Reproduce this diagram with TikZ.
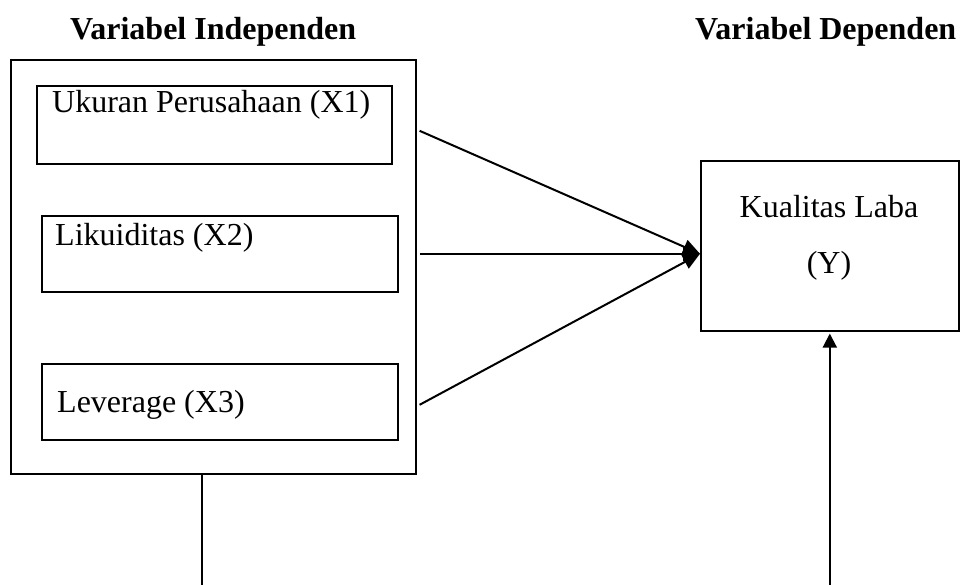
\documentclass[tikz,border=0pt]{standalone}
\usepackage{fontspec}
\setmainfont{Liberation Serif}
\usetikzlibrary{arrows.meta,calc}

\begin{document}
\begin{tikzpicture}[
    x=1pt, y=-1pt,
    box/.style={draw=black, line width=1.6pt, rectangle, inner sep=0pt,
      anchor=north west},
    txt/.style={anchor=base west, inner sep=0pt,
      font=\fontsize{32}{38}\selectfont},
    head/.style={anchor=base west, inner sep=0pt,
      font=\fontsize{32}{38}\selectfont\bfseries},
    link/.style={line width=2pt},
  line join=miter]

  \useasboundingbox (0,0) rectangle (960,585);

  % headings
  \node [head] (hind) at (70,40) {Variabel Independen};
  \node [head] (hdep) at (695,40) {Variabel Dependen};

  % independent variables
  \node [box, minimum width=405, minimum height=414] (indep) at (10,59) {};
  \node [box, minimum width=355, minimum height=78] (x1) at (36,85) {};
  \node [box, minimum width=356, minimum height=76] (x2) at (41,215) {};
  \node [box, minimum width=356, minimum height=76] (x3) at (41,363) {};
  \node [txt] (tx1) at (52,113) {Ukuran Perusahaan (X1)};
  \node [txt] (tx2) at (55,245) {Likuiditas (X2)};
  \node [txt] (tx3) at (57,412) {Leverage (X3)};

  % dependent variable
  \node [box, minimum width=258, minimum height=170] (dep) at (700,160) {};
  \node [txt, anchor=base] (ty1) at (829,218) {Kualitas Laba};
  \node [txt, anchor=base] (ty2) at (829,273) {(Y)};

  % arrows to Y
  \coordinate (tip) at ([yshift=-8pt]dep.west);
  \foreach \v/\dy in {x1/6, x2/0, x3/3}
    \draw [link, -{Triangle[length=17pt,width=15pt]}]
      ([xshift=3pt, yshift=-\dy pt]indep.east |- \v.center) -- (tip);

  % lines at the bottom
  \coordinate (low) at ([xshift=-11.5pt]indep.south |- 0,585);
  \coordinate (up) at (dep.south |- 0,585);
  \draw [line width=1.6pt] ([xshift=-11.5pt]indep.south) -- (low);
  \draw [link, -{Triangle[length=14pt,width=14pt]}] (up) -- ([yshift=-2pt]dep.south);
\end{tikzpicture}
\end{document}
